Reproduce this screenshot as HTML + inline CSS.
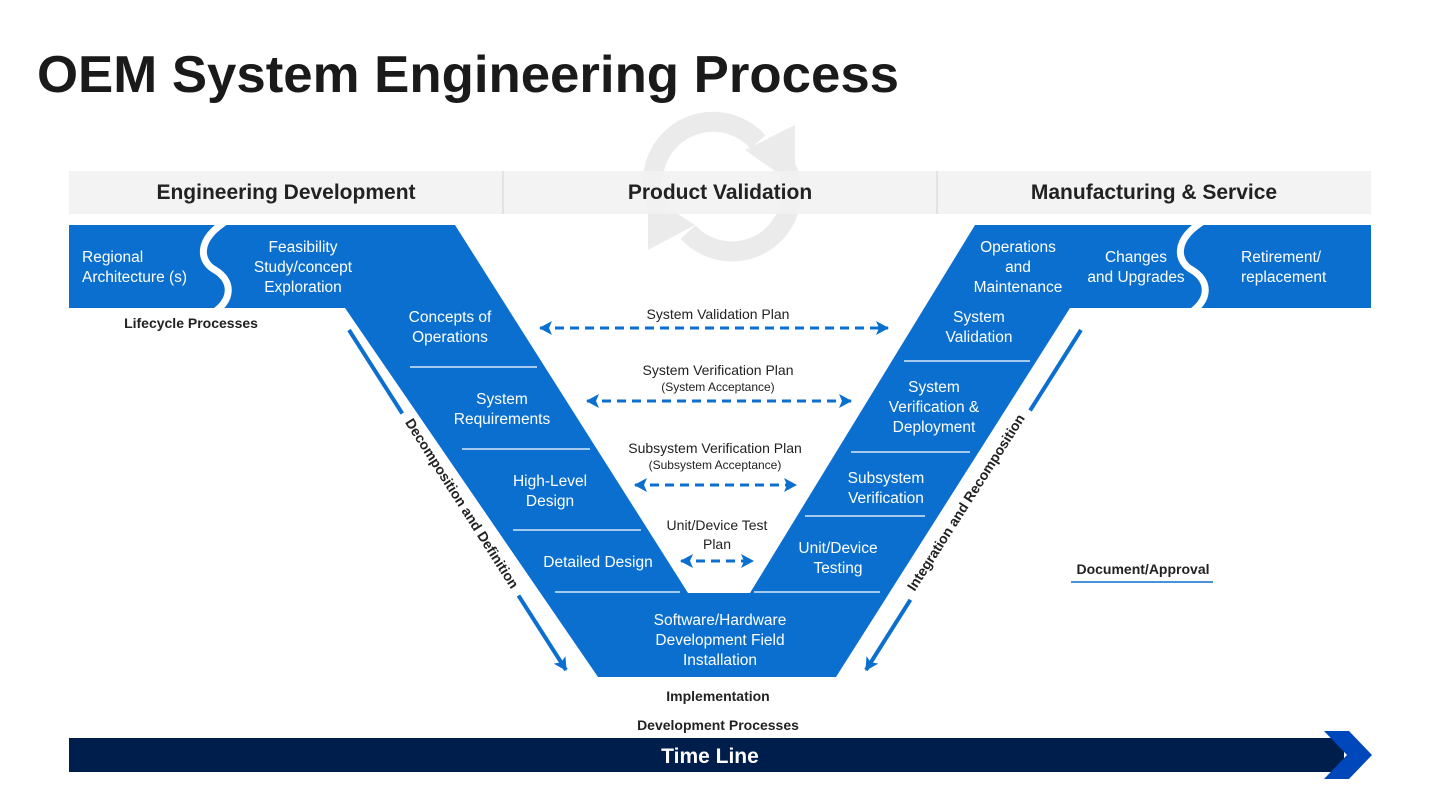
<!DOCTYPE html>
<html><head><meta charset="utf-8"><style>
body{margin:0;background:#fff;}
svg{display:block;font-family:"Segoe UI","Liberation Sans",sans-serif;}
</style></head><body>
<svg width="1440" height="810" viewBox="0 0 1440 810">
<defs>
<marker id="ah2" markerWidth="14" markerHeight="14" refX="12" refY="7" orient="auto" markerUnits="userSpaceOnUse"><path d="M0,0 L13,7 L0,14 L3,7 Z" fill="#0a6fcf"/></marker>
<marker id="as" markerWidth="14" markerHeight="14" refX="2" refY="7" orient="auto" markerUnits="userSpaceOnUse"><path d="M14,0 L1,7 L14,14 L11,7 Z" fill="#0a6fcf"/></marker>
</defs>
<text x="37" y="92" font-size="52" font-weight="bold" fill="#1a1a1a" textLength="862" lengthAdjust="spacingAndGlyphs">OEM System Engineering Process</text>
<!-- faint icon -->
<g fill="none" stroke="#ebebeb" stroke-width="20">
<path d="M668,222 A52,52 0 0 1 758,142"/><path d="M776,152 A52,52 0 0 1 688,232"/>
</g>
<path d="M795,125 L795,185 L745,150 Z" fill="#ebebeb"/>
<path d="M648,250 L648,195 L695,225 Z" fill="#ebebeb"/>
<rect x="69" y="171" width="1302" height="43" fill="#f2f2f2" opacity="0.9"/>
<line x1="503" y1="171" x2="503" y2="214" stroke="#d0d0d0"/>
<line x1="937" y1="171" x2="937" y2="214" stroke="#d0d0d0"/>
<g font-size="21" font-weight="bold" fill="#222" text-anchor="middle">
<text x="286" y="199">Engineering Development</text>
<text x="720" y="199">Product Validation</text>
<text x="1154" y="199">Manufacturing &amp; Service</text>
</g>
<path d="M69,225 L455,225 L688,593 L750,593 L975,225 L1371,225 L1371,308 L1070,308 L836,677 L598,677 L345,308 L69,308 Z" fill="#0a6fcf"/>
<g fill="none" stroke="#fff" stroke-width="7">
<path d="M228,220 C195,240 200,262 215,270 C232,280 235,300 210,315"/>
<path d="M1205,220 C1172,240 1177,262 1192,270 C1209,280 1212,300 1187,315"/>
</g>
<g stroke="#fff" stroke-width="1.2">
<line x1="410" y1="367" x2="537" y2="367"/><line x1="462" y1="449" x2="590" y2="449"/>
<line x1="513" y1="530" x2="641" y2="530"/><line x1="555" y1="592" x2="680" y2="592"/>
<line x1="904" y1="361" x2="1030" y2="361"/><line x1="851" y1="452" x2="970" y2="452"/>
<line x1="805" y1="516" x2="925" y2="516"/><line x1="754" y1="592" x2="880" y2="592"/>
</g>
<g font-size="15.5" fill="#fff" text-anchor="middle">
<text x="82" y="262" text-anchor="start">Regional</text><text x="82" y="282" text-anchor="start">Architecture (s)</text>
<text x="303" y="252">Feasibility</text><text x="303" y="272">Study/concept</text><text x="303" y="292">Exploration</text>
<text x="450" y="322">Concepts of</text><text x="450" y="342">Operations</text>
<text x="502" y="404">System</text><text x="502" y="424">Requirements</text>
<text x="550" y="486">High-Level</text><text x="550" y="506">Design</text>
<text x="598" y="567">Detailed Design</text>
<text x="720" y="625">Software/Hardware</text><text x="720" y="645">Development Field</text><text x="720" y="665">Installation</text>
<text x="1018" y="252">Operations</text><text x="1018" y="272">and</text><text x="1018" y="292">Maintenance</text>
<text x="1136" y="262">Changes</text><text x="1136" y="282">and Upgrades</text>
<text x="1241" y="262" text-anchor="start">Retirement/</text><text x="1241" y="282" text-anchor="start">replacement</text>
<text x="979" y="322">System</text><text x="979" y="342">Validation</text>
<text x="934" y="392">System</text><text x="934" y="412">Verification &amp;</text><text x="934" y="432">Deployment</text>
<text x="886" y="483">Subsystem</text><text x="886" y="503">Verification</text>
<text x="838" y="553">Unit/Device</text><text x="838" y="573">Testing</text>
</g>
<g font-size="14" fill="#222" text-anchor="middle">
<text x="718" y="319">System Validation Plan</text>
<text x="718" y="375">System Verification Plan</text><text x="718" y="391" font-size="12">(System Acceptance)</text>
<text x="715" y="453">Subsystem Verification Plan</text><text x="715" y="469" font-size="12">(Subsystem Acceptance)</text>
<text x="717" y="530">Unit/Device Test</text><text x="717" y="549">Plan</text>
</g>
<g font-size="14" font-weight="bold" fill="#222" text-anchor="middle">
<text x="191" y="328">Lifecycle Processes</text>
<text x="718" y="701">Implementation</text>
<text x="718" y="730">Development Processes</text>
<text x="1143" y="574">Document/Approval</text>
</g>
<line x1="1071" y1="582" x2="1213" y2="582" stroke="#0a6fcf" stroke-width="1.5"/>
<g stroke="#0a6fcf" stroke-width="3" stroke-dasharray="9,6" fill="none">
<line x1="540" y1="328" x2="888" y2="328" marker-start="url(#as)" marker-end="url(#ah2)"/>
<line x1="587" y1="401" x2="851" y2="401" marker-start="url(#as)" marker-end="url(#ah2)"/>
<line x1="635" y1="485" x2="796" y2="485" marker-start="url(#as)" marker-end="url(#ah2)"/>
<line x1="681" y1="561" x2="753" y2="561" marker-start="url(#as)" marker-end="url(#ah2)"/>
</g>
<g stroke="#0a6fcf" stroke-width="4" fill="none">
<line x1="349" y1="330" x2="566" y2="670" marker-end="url(#ah2)"/>
<line x1="1081" y1="330" x2="866" y2="670" marker-end="url(#ah2)"/>
</g>
<g font-size="14" font-weight="bold" fill="#222" text-anchor="middle">
<g transform="translate(458,506) rotate(57.5)"><rect x="-108" y="-15" width="216" height="20" fill="#fff"/><text x="0" y="0">Decomposition and Definition</text></g>
<g transform="translate(970,505) rotate(-57.5)"><rect x="-112" y="-15" width="224" height="20" fill="#fff"/><text x="0" y="0">Integration and Recomposition</text></g>
</g>
<rect x="69" y="738" width="1275" height="34" fill="#001e4c"/>
<path d="M1324,731 L1349,731 L1372,755 L1349,779 L1324,779 L1347,755 Z" fill="#0047bb"/>
<text x="710" y="763" font-size="21" font-weight="bold" fill="#fff" text-anchor="middle">Time Line</text>
</svg>
</body></html>
